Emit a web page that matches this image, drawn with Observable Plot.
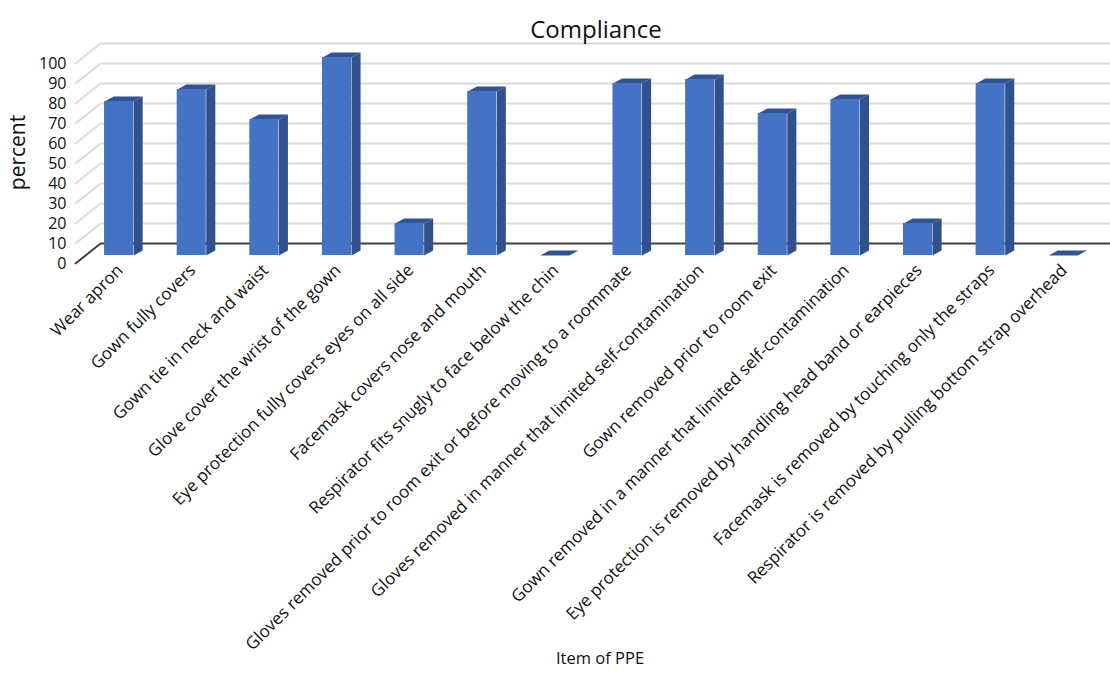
<!DOCTYPE html>
<html>
<head>
<meta charset="utf-8">
<script src="https://cdn.jsdelivr.net/npm/d3@7"></script>
<script src="https://cdn.jsdelivr.net/npm/@observablehq/plot@0.6"></script>
<style>
  html, body { margin: 0; padding: 0; background: #fff; }
</style>
</head>
<body>
<div id="chart"></div>
<script>
const categories = [
  "Wear apron",
  "Gown fully covers",
  "Gown tie in neck and waist",
  "Glove cover the wrist of the gown",
  "Eye protection fully covers eyes on all side",
  "Facemask covers nose and mouth",
  "Respirator fits snugly to face below the chin",
  "Gloves removed prior to room exit or before moving to a roommate",
  "Gloves removed in manner that limited self-contamination",
  "Gown removed prior to room exit",
  "Gown removed in a manner that limited self-contamination",
  "Eye protection is removed by handling head band or earpieces",
  "Facemask is removed by touching only the straps",
  "Respirator is removed by pulling bottom strap overhead"
];
const values = [77, 83, 68, 99, 16, 82, 0, 86, 88, 71, 78, 16, 86, 0];
const yTicks = [0, 10, 20, 30, 40, 50, 60, 70, 80, 90, 100];

const title = "Compliance";
const yLabel = "percent";
const xLabel = "Item of PPE";

// 3D geometry (in data units)
const half = 0.2;          // half bar width
const depthX = 0.125;      // bar depth, horizontal
const depthY = 2.5;        // bar depth, vertical
const wallX0 = -0.6, wallX1 = -0.255, wallX2 = 13.65;
const wallFront = -4, wallBack = 6;

const bars = categories.map((c, i) => ({i, c, v: values[i]}));

const sidePts = bars.flatMap(d => [
  {id: d.i, x: d.i + half, y: 0},
  {id: d.i, x: d.i + half + depthX, y: depthY},
  {id: d.i, x: d.i + half + depthX, y: d.v + depthY},
  {id: d.i, x: d.i + half, y: d.v}
]);
const topPts = bars.flatMap(d => [
  {id: d.i, x: d.i - half, y: d.v},
  {id: d.i, x: d.i + half, y: d.v},
  {id: d.i, x: d.i + half + depthX, y: d.v + depthY},
  {id: d.i, x: d.i - half + depthX, y: d.v + depthY}
]);
const gridPts = yTicks.flatMap(t => [
  {t, x: wallX0, y: t + wallFront},
  {t, x: wallX1, y: t + wallBack},
  {t, x: wallX2, y: t + wallBack}
]);

const font = "'Open Sans', 'Noto Sans', sans-serif";

const chart = Plot.plot({
  width: 1110,
  height: 675,
  marginLeft: 75,
  marginRight: 0,
  marginTop: 55,
  marginBottom: 420,
  style: {fontFamily: font, background: "#fff", color: "#111", overflow: "visible"},
  x: {type: "linear", domain: [wallX0, wallX2], axis: null},
  y: {type: "linear", domain: [0, 100], axis: null},
  marks: [
    Plot.line(gridPts.filter(d => d.t > 0), {x: "x", y: "y", z: "t", stroke: "#dcdcdc", strokeWidth: 2}),
    Plot.line(gridPts.filter(d => d.t === 0), {x: "x", y: "y", z: "t", stroke: "#404040", strokeWidth: 2}),
    Plot.line(sidePts, {x: "x", y: "y", z: "id", fill: "#2F528F", stroke: "none"}),
    Plot.line(topPts, {x: "x", y: "y", z: "id", fill: "#2F5597", stroke: "none"}),
    Plot.rect(bars, {x1: d => d.i - half, x2: d => d.i + half, y1: () => 0, y2: "v", fill: "#4472C4"}),
    Plot.text(yTicks, {x: () => wallX0, y: d => d + wallFront, text: d => String(d), textAnchor: "end", dx: -9, fontSize: 16, lineHeight: 1, fill: "#111"}),
    Plot.text(bars, {x: "i", y: () => -6, text: "c", rotate: -45, textAnchor: "end", fontSize: 17, fill: "#111", dx: 1}),
    Plot.text([title], {frameAnchor: "top", text: d => d, dy: -35, dx: 3, fontSize: 24, fill: "#111"}),
    Plot.text([yLabel], {frameAnchor: "left", text: d => d, rotate: -90, textAnchor: "middle", dx: -57, dy: -3, fontSize: 21, fill: "#111"}),
    Plot.text([xLabel], {frameAnchor: "bottom", text: d => d, dy: 408, dx: 7, fontSize: 16.5, fill: "#111"})
  ]
});
document.getElementById("chart").appendChild(chart);
</script>
</body>
</html>
